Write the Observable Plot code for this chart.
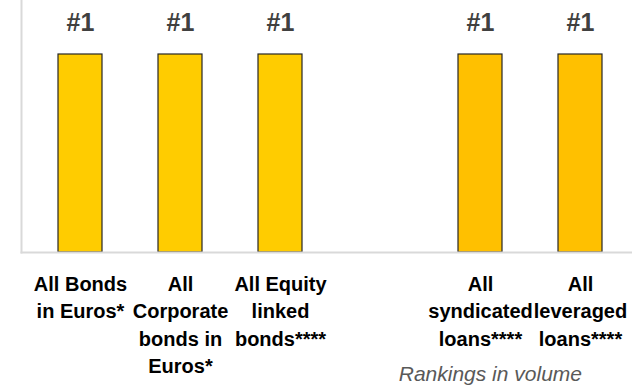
<!DOCTYPE html>
<html>
<head>
<meta charset="utf-8">
<script src="https://cdn.jsdelivr.net/npm/d3@7"></script>
<script src="https://cdn.jsdelivr.net/npm/@observablehq/plot@0.6"></script>
<style>
  html, body { margin: 0; padding: 0; background: #fff; }
  #wrap { position: relative; width: 632px; height: 386px; }
  #caption {
    position: absolute; right: 50px; top: 362px;
    font-family: "Liberation Sans", Arial, sans-serif; font-style: italic;
    font-size: 21px; color: #595959; white-space: nowrap;
  }
</style>
</head>
<body>
<div id="wrap">
  <div id="chart"></div>
  <div id="caption">Rankings in volume</div>
</div>
<script>
// Categories (the empty string is the gap between bonds and loans)
const categories = [
  "All Bonds\nin Euros*",
  "All\nCorporate\nbonds in\nEuros*",
  "All Equity\nlinked\nbonds****",
  "",
  "All\nsyndicated\nloans****",
  "All\nleveraged\nloans****"
];
const ranks = [1, 1, 1, null, 1, 1];
const groups = ["Bonds", "Bonds", "Bonds", null, "Loans", "Loans"];

const data = categories
  .map((c, i) => ({category: c, rank: ranks[i], group: groups[i]}))
  .filter(d => d.rank != null);

const chart = Plot.plot({
  width: 632,
  height: 386,
  marginTop: 0,
  marginLeft: 21,
  marginRight: 0,
  marginBottom: 134,
  style: {fontFamily: "'Liberation Sans', Arial, sans-serif", background: "#fff"},
  x: {domain: categories, range: [30, 630], paddingInner: 0.56, paddingOuter: 0.28, label: null},
  y: {domain: [0, 1], range: [252, 54], axis: null},
  color: {domain: ["Bonds", "Loans"], range: ["#FFCC00", "#FFC000"]},
  marks: [
    Plot.frame({anchor: "left", stroke: "#d9d9d9", strokeWidth: 2}),
    Plot.barY(data, {x: "category", y: "rank", fill: "group", stroke: "#262626", strokeWidth: 1.2}),
    Plot.frame({anchor: "bottom", stroke: "#d9d9d9", strokeWidth: 2}),
    Plot.text(data, {x: "category", y: "rank", text: d => "#" + d.rank, dy: -32,
      fontSize: 25, fontWeight: "bold", fill: "#404040"}),
    Plot.axisX({tickSize: 0, tickPadding: 19, fontSize: 20, fontWeight: "bold",
      lineHeight: 1.37, fill: "#000", label: null})
  ]
});
document.getElementById("chart").appendChild(chart);
</script>
</body>
</html>
